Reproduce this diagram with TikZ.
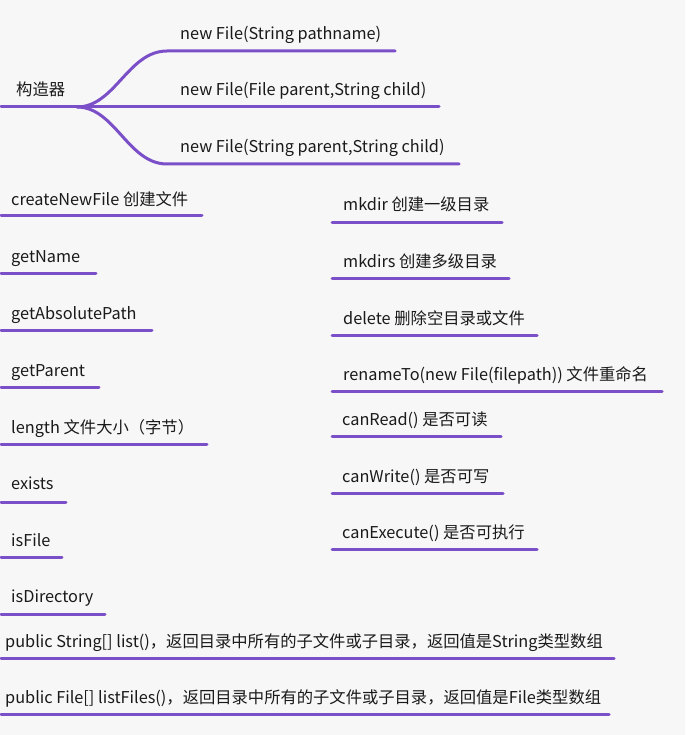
\documentclass[tikz,border=0pt]{standalone}
\usepackage{fontspec}
\setmainfont{Noto Sans CJK SC}
\usetikzlibrary{positioning}
\definecolor{bgpaper}{HTML}{F7F7F7}
\definecolor{branchline}{HTML}{7B4FC8}
\definecolor{labeltext}{HTML}{1A1A1A}
\tikzset{
   item/.style = {anchor=base west, inner sep=0pt, text=labeltext,
                  font=\fontsize{16.3}{19}\selectfont},
     ul/.style = {draw=branchline, line width=3pt, line cap=round},
}
\begin{document}
\begin{tikzpicture}[x=1pt,y=-1pt]
 \fill[bgpaper] (0,0) rectangle (685,735);
 \useasboundingbox (0,0) rectangle (685,735);
 % constructors
 \node[item] (ctor) at (16,96) {构造器};
 \coordinate (fork) at (77,107);
 \coordinate (k1) at (167,51);
 \coordinate (k3) at (167,164);
 \node[item] (c1) at (180,40) {new File(String pathname)};
 \node[item] (c2) at (180,96) {new File(File parent,String child)};
 \node[item] (c3) at (180,153) {new File(String parent,String child)};
 \draw[ul] (1,107) -- (fork);
 \draw[ul] (fork) .. controls (115,107) and (128,51) .. (k1) -- (395,51);
 \draw[ul] (fork) -- (439,107);
 \draw[ul] (fork) .. controls (115,107) and (128,164) .. (k3) -- (459,164);
 % left column
 \node[item] (l1) at (11,205) {createNewFile 创建文件};
 \node[item] (l2) at (11,262) {getName};
 \node[item] (l3) at (11,319) {getAbsolutePath};
 \node[item] (l4) at (11,376) {getParent};
 \node[item] (l5) at (11,433) {length 文件大小（字节）};
 \node[item] (l6) at (11,489) {exists};
 \node[item] (l7) at (11,546) {isFile};
 \node[item] (l8) at (11,602) {isDirectory};
 \draw[ul] (1,216) -- (202,216);
 \draw[ul] (1,273) -- (96,273);
 \draw[ul] (1,330) -- (152,330);
 \draw[ul] (1,387) -- (99,387);
 \draw[ul] (1,444) -- (207,444);
 \draw[ul] (1,502) -- (66,502);
 \draw[ul] (1,557) -- (62,557);
 \draw[ul] (1,614) -- (105,614);
 % right column
 \node[item] (r1) at (343,211) {mkdir 创建一级目录};
 \node[item] (r2) at (343,267) {mkdirs 创建多级目录};
 \node[item] (r3) at (343,324) {delete 删除空目录或文件};
 \node[item] (r4) at (343,380) {renameTo(new File(filepath)) 文件重命名};
 \node[item] (r5) at (342,425) {canRead() 是否可读};
 \node[item] (r6) at (342,482) {canWrite() 是否可写};
 \node[item] (r7) at (342,538) {canExecute() 是否可执行};
 \draw[ul] (332,222) -- (502,222);
 \draw[ul] (332,278) -- (509,278);
 \draw[ul] (332,335) -- (537,335);
 \draw[ul] (332,391) -- (662,391);
 \draw[ul] (332,436) -- (501,436);
 \draw[ul] (332,493) -- (503,493);
 \draw[ul] (332,549) -- (537,549);
 % list methods
 \node[item] (p1) at (5,647) {public String[] list()，返回目录中所有的子文件或子目录，返回值是String类型数组};
 \node[item] (p2) at (5,703) {public File[] listFiles()，返回目录中所有的子文件或子目录，返回值是File类型数组};
 \draw[ul] (1,658) -- (614,658);
 \draw[ul] (1,714) -- (609,714);
\end{tikzpicture}
\end{document}
